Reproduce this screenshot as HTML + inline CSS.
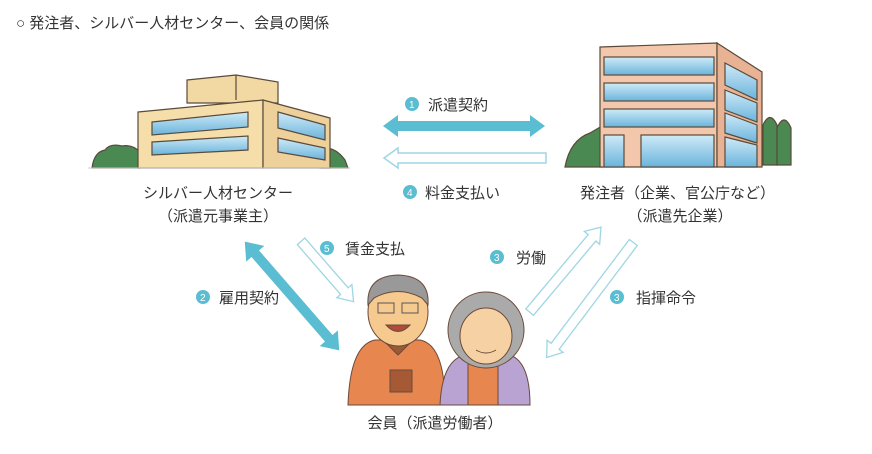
<!DOCTYPE html>
<html><head><meta charset="utf-8"><style>
body{margin:0;background:#fff;}
svg{display:block}
text{font-family:"Liberation Sans","Noto Sans CJK JP",sans-serif;fill:#333;}
</style></head><body>
<svg width="872" height="454" viewBox="0 0 872 454" xmlns="http://www.w3.org/2000/svg">
<defs>
<linearGradient id="bg" x1="0" x2="0" y1="0" y2="1"><stop offset="0" stop-color="#cfeaf7"/><stop offset="1" stop-color="#6ab4dc"/></linearGradient>
</defs>
<text x="16" y="28" font-size="15">○ 発注者、シルバー人材センター、会員の関係</text>

<!-- Left building -->
<g stroke="#5a4a3a" stroke-width="1.2">
<path d="M92 168 Q94 152 105 150 Q110 143 122 146 Q132 144 140 152 L140 168Z" fill="#4a8a52"/>
<path d="M320 168 L320 148 Q335 146 345 160 L348 168Z" fill="#4a8a52"/>
<path d="M187 80 L236 75 L278 82 L278 103 L187 103Z" fill="#f2d9a4"/>
<line x1="236" y1="75" x2="236" y2="100"/>
<path d="M138 112 L263 100 L263 168 L138 168Z" fill="#f6deaa"/>
<path d="M263 100 L330 118 L330 168 L263 168Z" fill="#edd09a"/>
<path d="M152 122 L248 112 L248 127 L152 135Z" fill="url(#bg)"/>
<path d="M152 142 L248 136 L248 150 L152 155Z" fill="url(#bg)"/>
<path d="M278 112 L325 125 L325 140 L278 128Z" fill="url(#bg)"/>
<path d="M278 138 L325 148 L325 160 L278 152Z" fill="url(#bg)"/>
</g>
<line x1="88" y1="168" x2="350" y2="168" stroke="#ccc" stroke-width="1"/>

<!-- Right building -->
<g stroke="#5a4a3a" stroke-width="1.2">
<path d="M565 167 Q570 140 590 133 L602 126 L602 167Z" fill="#4a8a52"/>
<path d="M600 47 L717 43 L717 167 L600 167Z" fill="#f3c7ac"/>
<path d="M717 43 L762 72 L762 167 L717 167Z" fill="#e8b394"/>
<g fill="url(#bg)">
<rect x="604" y="57" width="110" height="18"/><rect x="604" y="83" width="110" height="18"/>
<rect x="604" y="109" width="110" height="18"/>
<rect x="604" y="135" width="20" height="32"/><rect x="641" y="135" width="73" height="32"/>
<path d="M725 63 L757 80 L757 100 L725 85Z"/><path d="M725 90 L757 103 L757 122 L725 110Z"/>
<path d="M725 113 L757 125 L757 143 L725 133Z"/><path d="M725 137 L757 145 L757 167 L725 167Z"/>
</g>
<path d="M763 165 L763 125 Q770 110 777 125 L777 165Z" fill="#4a8a52"/>
<path d="M777 165 L777 128 Q784 112 791 128 L791 165Z" fill="#4a8a52"/>
</g>

<!-- Arrow 1 double -->
<path d="M383 126 L398 115 L398 121 L530 121 L530 115 L545 126 L530 137 L530 131 L398 131 L398 137Z" fill="#5bbdd1"/>
<circle cx="412" cy="104" r="7" fill="#5bbdd1"/><text x="409" y="108" font-size="10" style="fill:#fff">1</text>
<text x="428" y="110" font-size="15">派遣契約</text>
<!-- Arrow 4 hollow -->
<path d="M384 158 L398 148 L398 153 L546 153 L546 163 L398 163 L398 168Z" fill="#fff" stroke="#9fd6e4" stroke-width="1.5"/>
<circle cx="410" cy="192" r="7" fill="#5bbdd1"/><text x="407" y="196" font-size="10" style="fill:#fff">4</text>
<text x="425" y="198" font-size="15">料金支払い</text>

<text x="218" y="198" font-size="15" text-anchor="middle">シルバー人材センター</text>
<text x="218" y="221" font-size="15" text-anchor="middle">（派遣元事業主）</text>
<text x="580" y="198" font-size="15">発注者（企業、官公庁など）</text>
<text x="680" y="221" font-size="15" text-anchor="middle">（派遣先企業）</text>

<!-- Arrow 2 double diagonal -->
<g transform="translate(292,296) rotate(49)">
<path d="M-72 0 L-56 -12 L-56 -5 L56 -5 L56 -12 L72 0 L56 12 L56 5 L-56 5 L-56 12Z" fill="#5bbdd1"/>
</g>
<circle cx="203" cy="297" r="7" fill="#5bbdd1"/><text x="200" y="301" font-size="10" style="fill:#fff">2</text>
<text x="219" y="303" font-size="15">雇用契約</text>

<!-- Arrow 5 hollow -->
<g transform="translate(326,270) rotate(49)">
<path d="M-38 -5 L28 -5 L28 -10 L42 0 L28 10 L28 5 L-38 5Z" fill="#fff" stroke="#9fd6e4" stroke-width="1.3"/>
</g>
<circle cx="327" cy="248" r="7" fill="#5bbdd1"/><text x="324" y="252" font-size="10" style="fill:#fff">5</text>
<text x="345" y="254" font-size="15">賃金支払</text>

<!-- Arrow 3 labor (up-right) -->
<g transform="translate(565,270) rotate(-50)">
<path d="M-55 -5 L42 -5 L42 -10 L56 0 L42 10 L42 5 L-55 5Z" fill="#fff" stroke="#9fd6e4" stroke-width="1.3"/>
</g>
<circle cx="497" cy="257" r="7" fill="#5bbdd1"/><text x="494" y="261" font-size="10" style="fill:#fff">3</text>
<text x="516" y="263" font-size="15">労働</text>

<!-- Arrow 3 command (down-left) -->
<g transform="translate(590,300) rotate(127)">
<path d="M-72 -5 L58 -5 L58 -10 L72 0 L58 10 L58 5 L-72 5Z" fill="#fff" stroke="#9fd6e4" stroke-width="1.3"/>
</g>
<circle cx="617" cy="297" r="7" fill="#5bbdd1"/><text x="614" y="301" font-size="10" style="fill:#fff">3</text>
<text x="636" y="303" font-size="15">指揮命令</text>

<!-- People -->
<g stroke="#6a4a3a" stroke-width="1">
<path d="M348 405 Q350 345 375 340 L420 340 Q445 345 445 405Z" fill="#e8864f"/>
<rect x="390" y="370" width="22" height="22" fill="#a55a35"/>
<path d="M383 340 L398 355 L413 340Z" fill="#9a5a35"/>
<ellipse cx="398" cy="312" rx="30" ry="34" fill="#f6c98f"/>
<path d="M368 305 Q366 276 398 275 Q430 276 428 305 L422 298 Q398 285 374 298Z" fill="#999"/>
<rect x="378" y="303" width="16" height="10" fill="none" stroke="#555"/><rect x="402" y="303" width="16" height="10" fill="none" stroke="#555"/>
<path d="M386 325 Q398 338 410 325Z" fill="#b04a3a"/>
<path d="M440 405 Q442 360 465 355 L510 355 Q530 362 530 405Z" fill="#b9a3d3"/>
<rect x="468" y="360" width="30" height="45" fill="#e8864f"/>
<ellipse cx="486" cy="330" rx="38" ry="38" fill="#aaa"/>
<ellipse cx="486" cy="336" rx="26" ry="28" fill="#f6d1a4"/>
<path d="M476 350 Q486 356 496 350" fill="none"/>
</g>
<text x="435" y="428" font-size="15" text-anchor="middle">会員（派遣労働者）</text>
</svg>
</body></html>
